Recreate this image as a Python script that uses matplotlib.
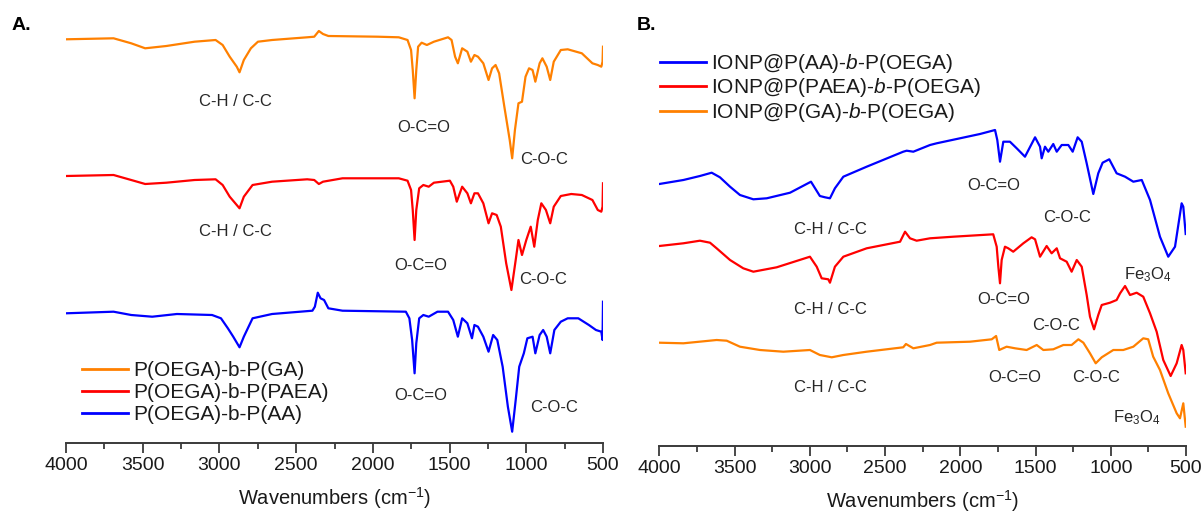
import matplotlib
matplotlib.use("Agg")
import matplotlib.pyplot as plt
from matplotlib.ticker import MultipleLocator

plt.rcParams['font.family'] = ['Liberation Sans', 'DejaVu Sans']
plt.rcParams['mathtext.fontset'] = 'custom'
plt.rcParams['mathtext.rm'] = 'Liberation Sans'
plt.rcParams['mathtext.it'] = 'Liberation Sans:italic'
plt.rcParams['mathtext.bf'] = 'Liberation Sans:bold'

ORANGE = '#FF8000'
RED = '#FF0000'
BLUE = '#0000FF'
TXT = '#262626'

# ---------------- Panel A data (wavenumber, intensity a.u.) ----------------
wA_ga = [4000, 3690, 3575, 3484, 3346, 3162, 3025, 2979, 2933, 2887, 2869, 2841, 2795, 2749, 2657,
         2428, 2382, 2352, 2325, 2290, 1969, 1831, 1774, 1751, 1740, 1728, 1717, 1705, 1682, 1648,
         1602, 1510, 1487, 1464, 1446, 1418, 1384, 1361, 1338, 1315, 1280, 1246, 1223, 1200, 1177,
         1143, 1108, 1092, 1074, 1051, 1028, 1005, 982, 959, 941, 913, 895, 867, 844, 821, 775, 730,
         638, 569, 534, 511, 503, 500]
iA_ga = [405.7, 406.7, 401.7, 396.7, 399, 403.3, 405, 400, 388.3, 378.3, 372.7, 385, 396.7, 403.3, 405,
         407.7, 408.3, 414, 411, 409, 408.3, 407.7, 405, 395, 375, 346.7, 375, 398.3, 402.3, 400,
         403.3, 407.7, 405, 388.3, 381.7, 396.7, 393.3, 383.3, 390, 388.3, 381.7, 365, 376.7, 380, 371.7,
         338.3, 305, 286.7, 315, 341.7, 343.3, 368.3, 376.7, 375, 363.3, 381.7, 386.7, 378.3, 365, 383.3,
         395, 395.7, 391.7, 381.7, 380, 378.3, 383.3, 398.3]

wA_paea = [4000, 3690, 3575, 3484, 3346, 3162, 3025, 2979, 2933, 2869, 2841, 2784, 2657, 2428, 2382,
           2352, 2325, 2198, 1831, 1774, 1751, 1740, 1728, 1717, 1698, 1671, 1636, 1602, 1498, 1476,
           1453, 1418, 1384, 1361, 1338, 1315, 1280, 1246, 1223, 1193, 1166, 1131, 1097, 1069, 1051,
           1028, 1000, 971, 948, 925, 902, 872, 844, 821, 775, 707, 638, 569, 534, 511, 503, 500]
iA_paea = [269, 270, 265, 261, 262.3, 265, 265.7, 260, 248.3, 236.7, 248.3, 260, 263.3, 265.7, 265,
           261, 263.3, 266.7, 266.7, 264.3, 255, 235, 205, 235, 256.7, 260, 258.3, 262.3, 264.3, 258.3,
           243.3, 258.3, 251.7, 241.7, 251.7, 251.7, 241.7, 221.7, 231.7, 230, 218.3, 181.7, 155, 185, 205,
           190, 205, 218.3, 198.3, 225, 241.7, 235, 221.7, 238.3, 249, 251, 250, 245, 235, 233.3, 238.3, 261.7]

wA_aa = [4000, 3690, 3575, 3438, 3277, 3048, 2990, 2945, 2910, 2869, 2841, 2784, 2657, 2394, 2378,
         2359, 2341, 2318, 2290, 2198, 1785, 1762, 1744, 1728, 1717, 1698, 1671, 1636, 1579, 1510,
         1476, 1446, 1418, 1384, 1354, 1338, 1315, 1280, 1246, 1216, 1189, 1154, 1120, 1092, 1069,
         1046, 1016, 993, 959, 941, 913, 890, 867, 844, 817, 775, 730, 661, 592, 546, 511, 503, 500]
iA_aa = [131.7, 133.3, 130, 128.3, 131, 130, 126.7, 116.7, 108.3, 97.7, 108.3, 126.7, 131, 134.3, 138.3,
         152.3, 146.7, 145, 136.7, 134.3, 133.3, 126.7, 105, 71.7, 101.7, 126.7, 130, 128.3, 133.3, 133.3,
         125, 108.3, 126.7, 121.7, 106.7, 120, 118.3, 108.3, 93.3, 110, 105, 78.3, 38.3, 13.3, 45,
         78.3, 91.7, 106.7, 108.3, 91.7, 110, 115, 108.3, 91.7, 115, 123.3, 126.7, 126.7, 120, 115,
         113.3, 105, 143.3]

# ---------------- Panel B data ----------------
wB_aa = [4000, 3840, 3730, 3652, 3597, 3530, 3464, 3375, 3286, 3131, 2992, 2933, 2899, 2866, 2833,
         2777, 2622, 2379, 2356, 2312, 2201, 2157, 2002, 1869, 1769, 1754, 1736, 1714, 1670, 1625,
         1570, 1503, 1470, 1459, 1437, 1415, 1382, 1359, 1326, 1282, 1253, 1220, 1193, 1160, 1116,
         1083, 1054, 1010, 961, 905, 850, 794, 739, 673, 618, 573, 529, 518, 502]
iB_aa = [261, 265, 269, 272.3, 267.7, 258.3, 250, 245.7, 246.7, 252.3, 263.3, 249, 247.7, 246.7, 256.7,
         268.3, 278.3, 293.3, 294.3, 293.3, 300, 301.7, 306.7, 311, 315, 305, 283.3, 303.3, 303.3, 296.7,
         288.3, 307.7, 298.3, 286.7, 298.3, 293.3, 301, 293.3, 300, 300, 293.3, 307.7, 303.3, 281.7, 251,
         271.7, 282.3, 285.7, 271.7, 268.3, 263.3, 265, 245, 208.3, 188.3, 198.3, 241.7, 238.3, 211]

wB_paea = [4000, 3840, 3730, 3663, 3619, 3530, 3442, 3375, 3220, 2999, 2954, 2921, 2877, 2866, 2833,
           2777, 2622, 2400, 2367, 2334, 2290, 2201, 2046, 1781, 1758, 1747, 1736, 1725, 1703, 1681,
           1648, 1581, 1526, 1503, 1470, 1426, 1393, 1359, 1337, 1293, 1260, 1226, 1193, 1160, 1138,
           1111, 1083, 1060, 1005, 961, 938, 905, 872, 828, 784, 739, 695, 651, 602, 562, 529, 518, 502]
iB_paea = [199, 201.7, 204.3, 202.3, 196.7, 185, 176.7, 173.3, 177.7, 188.3, 178.3, 166.7, 165.7, 162.3, 178.3,
           188.3, 196.7, 203.3, 213.3, 206.7, 204.3, 206.7, 208.3, 210.7, 198.3, 178.3, 161.7, 185, 198.3, 196.7,
           193.3, 201.7, 207.7, 205.7, 188.3, 199, 191.7, 196.7, 186.7, 183.3, 173.3, 185, 178.3, 150, 128.3,
           115.7, 130, 140, 142.3, 145, 151.7, 159, 150, 152.3, 148.3, 131.7, 113.3, 85, 69, 81.7, 100, 95, 71.7]

wB_ga = [4000, 3840, 3619, 3552, 3464, 3331, 3176, 2999, 2933, 2854, 2777, 2622, 2379, 2361, 2312, 2201,
         2157, 1935, 1791, 1762, 1741, 1692, 1636, 1559, 1492, 1448, 1382, 1315, 1260, 1215, 1182,
         1138, 1100, 1060, 983, 917, 850, 784, 751, 718, 673, 618, 562, 540, 518, 502]
iB_ga = [102.3, 101.7, 105, 104.3, 98.3, 95, 93.3, 95, 90, 87.7, 90, 93.3, 97.7, 101, 96.7, 100,
         102.3, 103.3, 105.7, 109, 95, 98.3, 96.7, 95, 100, 95, 95.7, 100, 100, 105.7, 102.3,
         91.7, 81.7, 87.7, 95, 95, 98.3, 106.7, 105.7, 88.3, 75, 51.7, 31.7, 26.7, 41.7, 18.3]

labels_A = ['P(OEGA)-b-P(GA)', 'P(OEGA)-b-P(PAEA)', 'P(OEGA)-b-P(AA)']
labels_B = ['IONP@P(AA)-$\\it{b}$-P(OEGA)', 'IONP@P(PAEA)-$\\it{b}$-P(OEGA)', 'IONP@P(GA)-$\\it{b}$-P(OEGA)']

# annotation texts: (text, wavenumber, intensity)
annot_A = [('C-H / C-C', 2898, 343), ('O-C=O', 1671, 318), ('C-O-C', 886, 285),
           ('C-H / C-C', 2898, 214), ('O-C=O', 1689, 179), ('C-O-C', 890, 166),
           ('O-C=O', 1689, 50), ('C-O-C', 821, 37)]
annot_B = [('C-H / C-C', 2866, 215), ('O-C=O', 1776, 260), ('C-O-C', 1293, 228),
           ('C-H / C-C', 2866, 136), ('O-C=O', 1709, 145), ('C-O-C', 1362, 120), ('Fe$_3$O$_4$', 751, 170),
           ('C-H / C-C', 2866, 57), ('O-C=O', 1641, 67), ('C-O-C', 1098, 67), ('Fe$_3$O$_4$', 824, 27)]

xticks = [4000, 3500, 3000, 2500, 2000, 1500, 1000, 500]

W, H = 1204, 515
fig = plt.figure(figsize=(W / 100, H / 100), dpi=100)

axA = fig.add_axes([66 / W, (H - 443) / H, 537 / W, 423 / H])
axB = fig.add_axes([659.3 / W, (H - 446) / H, 526.7 / W, 426 / H])


def style(ax, ylim):
    ax.set_xlim(4000, 500)
    ax.set_ylim(*ylim)
    for s in ['left', 'right', 'top']:
        ax.spines[s].set_visible(False)
    ax.spines['bottom'].set_color('#3a3a3a')
    ax.spines['bottom'].set_linewidth(1.4)
    ax.set_yticks([])
    ax.set_xticks(xticks)
    ax.xaxis.set_minor_locator(MultipleLocator(250))
    ax.tick_params(axis='x', which='major', direction='out', length=7, width=1.3,
                   color='#3a3a3a', labelsize=14, pad=3, labelcolor='#1a1a1a')
    ax.tick_params(axis='x', which='minor', direction='out', length=4, width=1.3, color='#3a3a3a')
    ax.set_xlabel('Wavenumbers (cm$^{-1}$)', fontsize=14.5, labelpad=8, color='#1a1a1a')
    ax.patch.set_alpha(0)


style(axA, (2, 425))
style(axB, (-1, 425))

lw = 1.6
axA.plot(wA_ga, iA_ga, color=ORANGE, lw=lw, label=labels_A[0])
axA.plot(wA_paea, iA_paea, color=RED, lw=lw, label=labels_A[1])
axA.plot(wA_aa, iA_aa, color=BLUE, lw=lw, label=labels_A[2])

axB.plot(wB_aa, iB_aa, color=BLUE, lw=lw, label=labels_B[0])
axB.plot(wB_paea, iB_paea, color=RED, lw=lw, label=labels_B[1])
axB.plot(wB_ga, iB_ga, color=ORANGE, lw=lw, label=labels_B[2])

for t, x, y in annot_A:
    axA.text(x, y, t, ha='center', va='center', fontsize=12, color=TXT)
for t, x, y in annot_B:
    axB.text(x, y, t, ha='center', va='center', fontsize=12, color=TXT)

legA = axA.legend(loc='upper left', bbox_to_anchor=(82 / W, (H - 361) / H), bbox_transform=fig.transFigure,
                  frameon=False, fontsize=15, handlelength=2.2, handletextpad=0.25, labelspacing=0.15,
                  borderpad=0, borderaxespad=0)
legB = axB.legend(loc='upper left', bbox_to_anchor=(660 / W, (H - 52) / H), bbox_transform=fig.transFigure,
                  frameon=False, fontsize=15, handlelength=2.2, handletextpad=0.25, labelspacing=0.07,
                  borderpad=0, borderaxespad=0)
for leg in (legA, legB):
    for line in leg.get_lines():
        line.set_linewidth(2.0)
    for txt in leg.get_texts():
        txt.set_color('#1a1a1a')

fig.text(12 / W, 1 - 25 / H, 'A.', fontsize=14, fontweight='bold', va='center', ha='left')
fig.text(637 / W, 1 - 25 / H, 'B.', fontsize=14, fontweight='bold', va='center', ha='left')

fig.savefig('out.png', dpi=100)
